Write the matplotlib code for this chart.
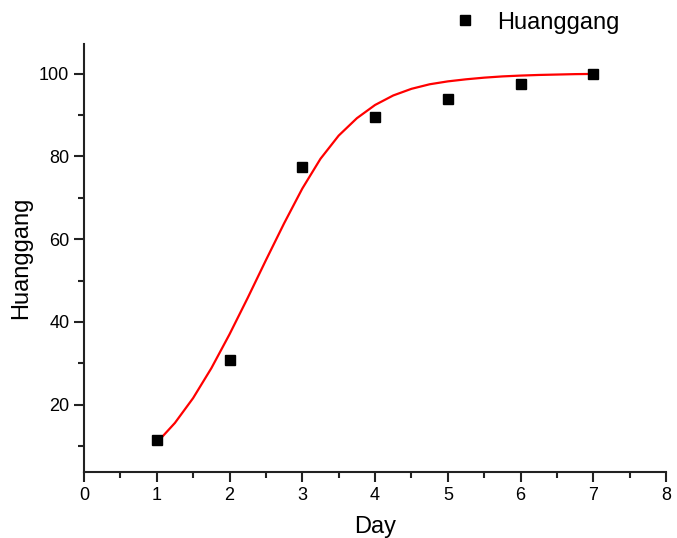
import matplotlib
matplotlib.use('Agg')
import matplotlib.pyplot as plt
from matplotlib.ticker import MultipleLocator

plt.rcParams['font.family'] = ['Liberation Sans', 'DejaVu Sans']

# measured points
day = [1, 2, 3, 4, 5, 6, 7]
huanggang = [11.5, 30.8, 77.3, 89.5, 93.9, 97.4, 100.0]

# fitted curve
fit_day = [1.0, 1.25, 1.5, 1.75, 2.0, 2.25, 2.5, 2.75, 3.0, 3.25, 3.5, 3.75,
           4.0, 4.25, 4.5, 4.75, 5.0, 5.25, 5.5, 5.75, 6.0, 6.25, 6.5, 6.75, 7.0]
fit_val = [10.8, 15.6, 21.6, 28.8, 37.0, 45.8, 54.9, 63.8, 72.2, 79.4, 85.0, 89.2,
           92.4, 94.7, 96.3, 97.4, 98.1, 98.6, 99.0, 99.3, 99.5, 99.65, 99.75, 99.85, 99.9]

fig = plt.figure(figsize=(6.77, 5.38), dpi=100)
ax = fig.add_axes([0.124, 0.1227, 0.86, 0.7953])

ax.plot(fit_day, fit_val, color='#ff0000', lw=1.6, zorder=2,
        solid_joinstyle='round', solid_capstyle='round')
ax.plot(day, huanggang, 's', color='black', ms=7, zorder=3, label='Huanggang')

ax.set_xlim(0, 8)
ax.set_ylim(3.75, 107.1)
ax.xaxis.set_major_locator(MultipleLocator(1))
ax.xaxis.set_minor_locator(MultipleLocator(0.5))
ax.yaxis.set_minor_locator(MultipleLocator(10))
ax.set_yticks([20, 40, 60, 80, 100])

for s in ['top', 'right']:
    ax.spines[s].set_visible(False)
for s in ['left', 'bottom']:
    ax.spines[s].set_linewidth(1.5)
    ax.spines[s].set_color('#222222')

ax.tick_params(which='major', direction='out', length=7, width=1.5, labelsize=13, color='#222222')
ax.tick_params(which='minor', direction='out', length=4, width=1.5, color='#222222')

# reference crops "Day" at the bottom edge; keep it just inside the canvas
ax.set_xlabel('Day', fontsize=17, labelpad=9)
ax.set_ylabel('Huanggang', fontsize=17, labelpad=5)

ax.legend(loc='center left', bbox_to_anchor=(0.629, 0.958), bbox_transform=fig.transFigure,
          frameon=False, fontsize=17, handletextpad=0.6, handlelength=1.5)

fig.savefig('out.png', dpi=100)
